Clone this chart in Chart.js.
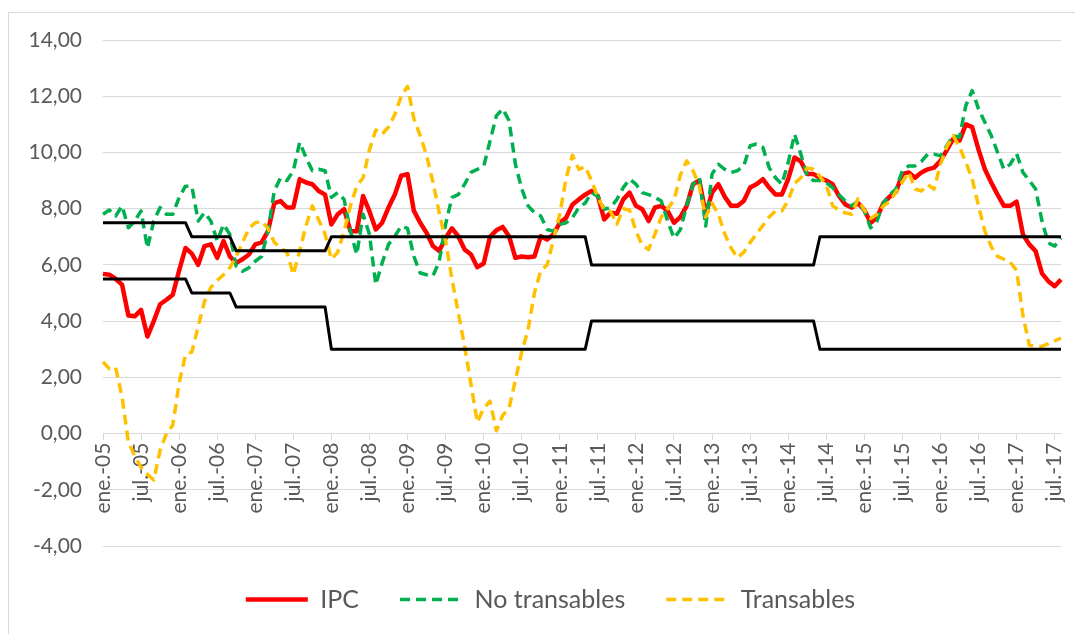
<!DOCTYPE html>
<html lang="es">
<head>
<meta charset="utf-8">
<title>IPC, transables y no transables</title>
<script src="https://cdn.jsdelivr.net/npm/chart.js@4.4.1/dist/chart.umd.min.js"></script>
<style>
    html, body { margin: 0; padding: 0; background: #fff; overflow: hidden; }
    #frame { position: absolute; left: 8px; top: 12px; width: 1200px; height: 800px; border: 1px solid #d9d9d9; }
    #wrap  { position: absolute; left: 0; top: 0; width: 1075px; height: 634px; }
</style>
</head>
<body>
<div id="frame"></div>
<div id="wrap"><canvas id="chartIpc"></canvas></div>
<script>
// variación interanual, mensual de ene.-05 a ago.-17
const MESES = ['ene.','feb.','mar.','abr.','may.','jun.','jul.','ago.','sep.','oct.','nov.','dic.']
const ANIOS = ['05','06','07','08','09','10','11','12','13','14','15','16','17']
const N_MESES = 152

const labels = []
ANIOS.forEach(a => MESES.forEach(m => labels.push(`${m}-${a}`)))
labels.length = N_MESES

const ipc = [
    5.68, 5.65, 5.5, 5.3, 4.2, 4.17, 4.4, 3.45, 4.0, 4.6, 4.76, 4.94,
    5.8, 6.6, 6.4, 6.0, 6.67, 6.73, 6.25, 6.85, 6.3, 6.07, 6.2, 6.37,
    6.73, 6.8, 7.2, 8.2, 8.27, 8.04, 8.04, 9.05, 8.93, 8.87, 8.63, 8.5,
    7.44, 7.8, 7.98, 7.2, 7.2, 8.45, 7.9, 7.26, 7.5, 8.04, 8.5, 9.17,
    9.23, 7.92, 7.5, 7.14, 6.67, 6.5, 6.96, 7.3, 7.02, 6.55, 6.37, 5.92,
    6.05, 7.0, 7.23, 7.35, 7.02, 6.25, 6.3, 6.27, 6.3, 7.02, 6.9, 7.08,
    7.5, 7.68, 8.15, 8.33, 8.5, 8.63, 8.45, 7.62, 7.86, 7.82, 8.33, 8.57,
    8.1, 7.98, 7.56, 8.04, 8.1, 7.92, 7.5, 7.7, 8.1, 8.87, 9.0, 7.8,
    8.57, 8.87, 8.42, 8.1, 8.1, 8.27, 8.75, 8.87, 9.05, 8.75, 8.5, 8.5,
    9.05, 9.82, 9.68, 9.23, 9.23, 9.1, 9.0, 8.87, 8.45, 8.15, 8.04, 8.2,
    7.95, 7.5, 7.68, 8.2, 8.43, 8.6, 9.23, 9.29, 9.1, 9.29, 9.4, 9.46,
    9.7, 10.08, 10.48, 10.42, 11.0, 10.9, 10.1, 9.4, 8.93, 8.5, 8.1, 8.1,
    8.25, 7.08, 6.73, 6.49, 5.7, 5.42, 5.24, 5.48
]

const noTransables = [
    7.8, 7.95, 7.74, 8.1, 7.32, 7.56, 7.92, 6.6, 7.56, 8.04, 7.8, 7.8,
    8.4, 8.8, 8.8, 7.56, 7.86, 7.56, 6.85, 7.44, 7.08, 5.95, 5.77, 5.9,
    6.13, 6.3, 7.2, 8.63, 9.1, 9.0, 9.35, 10.36, 9.82, 9.35, 9.4, 9.35,
    8.4, 8.57, 8.33, 7.2, 6.37, 7.8, 7.08, 5.3, 6.07, 6.73, 7.02, 7.38,
    7.3, 6.3, 5.71, 5.65, 5.6, 6.13, 7.44, 8.4, 8.5, 8.87, 9.29, 9.4,
    9.5, 10.4, 11.3, 11.55, 11.13, 9.58, 8.7, 8.1, 7.86, 7.74, 7.26, 7.2,
    7.44, 7.5, 7.68, 8.04, 8.2, 8.57, 8.45, 7.98, 8.04, 8.33, 8.75, 9.05,
    8.87, 8.57, 8.5, 8.4, 8.27, 7.56, 6.95, 7.25, 8.1, 8.87, 9.1, 7.38,
    9.23, 9.58, 9.4, 9.29, 9.35, 9.52, 10.24, 10.3, 10.18, 9.46, 9.1, 8.87,
    9.64, 10.65, 9.94, 9.17, 9.0, 9.0, 8.93, 8.75, 8.5, 8.27, 8.1, 8.27,
    7.92, 7.32, 7.56, 8.2, 8.5, 8.7, 9.35, 9.52, 9.52, 9.68, 9.94, 9.94,
    9.88, 10.24, 10.6, 10.54, 11.67, 12.2, 11.55, 11.07, 10.6, 10.0, 9.4, 9.58,
    9.96, 9.29, 9.0, 8.7, 7.56, 6.78, 6.67, 6.96
]

const transables = [
    2.55, 2.3, 2.35, 1.3, -0.3, -0.8, -1.2, -1.45, -1.65, -0.6, 0.0, 0.3,
    1.8, 2.8, 2.9, 3.8, 4.7, 5.2, 5.45, 5.65, 5.9, 6.3, 6.8, 7.3,
    7.5, 7.55, 7.3, 6.8, 6.6, 6.45, 5.65, 6.5, 7.4, 8.1, 7.6, 7.1,
    6.2, 6.45, 7.2, 8.1, 8.8, 9.1, 10.1, 10.8, 10.65, 10.9, 11.35, 12.0,
    12.35, 11.2, 10.6, 9.9, 8.95, 7.85, 6.85, 5.5, 4.3, 3.1, 1.75, 0.4,
    0.9, 1.15, 0.1, 0.65, 0.9, 1.9, 2.9, 3.7, 5.0, 5.8, 6.0, 6.9,
    7.8, 9.1, 9.9, 9.4, 9.5, 9.0, 8.4, 7.95, 7.9, 7.45, 8.0, 7.95,
    7.2, 6.7, 6.55, 7.1, 7.7, 8.0, 8.3, 9.2, 9.7, 9.35, 8.8, 7.7,
    8.2, 7.8, 7.1, 6.6, 6.25, 6.45, 6.8, 7.1, 7.4, 7.7, 7.92, 7.92,
    8.3, 8.9, 9.1, 9.45, 9.4, 9.15, 8.85, 8.1, 7.95, 7.85, 7.8, 8.35,
    7.95, 7.65, 7.8, 8.1, 8.25, 8.6, 8.95, 9.3, 8.7, 8.63, 8.85, 8.7,
    9.58, 10.2, 10.6, 10.2, 9.65, 9.05, 8.1, 7.2, 6.65, 6.3, 6.2, 6.1,
    5.8, 4.2, 3.15, 3.1, 3.1, 3.2, 3.3, 3.4
]

// rango meta: meses donde cambia el escalón (índice en labels) y su valor
const metaIdx      = [0, 13, 14, 20, 21, 35, 36, 76, 77, 112, 113, 151]
const metaSuperior = [7.5, 7.5, 7.0, 7.0, 6.5, 6.5, 7.0, 7.0, 6.0, 6.0, 7.0, 7.0]
const metaInferior = [5.5, 5.5, 5.0, 5.0, 4.5, 4.5, 3.0, 3.0, 4.0, 4.0, 3.0, 3.0]

const Y_TICKS = [-4, -2, 0, 2, 4, 6, 8, 10, 12, 14]

const GRIS   = '#595959'
const GRID   = '#d9d9d9'
const FUENTE = { family: 'Lato, "Open Sans", sans-serif', size: 21 }
const FUENTE_LEYENDA = { family: FUENTE.family, size: 25 }

Chart.defaults.font.family = FUENTE.family
Chart.defaults.font.size   = FUENTE.size
Chart.defaults.color       = GRIS

function escalon(valores) {
    return metaIdx.map((i, k) => ({ x: labels[i], y: valores[k] }))
}

function formatoNumero(v) {
    return v.toFixed(2).replace('.', ',')
}

// con usePointStyle la leyenda toma el estilo del punto, le devolvemos el guion de la serie
function etiquetasLeyenda(chart) {
    return Chart.defaults.plugins.legend.labels.generateLabels(chart).map(item => {
        const ds = chart.data.datasets[item.datasetIndex]
        return { ...item, lineDash: ds.borderDash || [], lineWidth: ds.borderWidth }
    })
}

new Chart(document.getElementById('chartIpc'), {
    type: 'line',
    data: {
        labels: labels,
        datasets: [
            { label: 'IPC', data: ipc, borderColor: '#ff0000', backgroundColor: '#ff0000', borderWidth: 4.5, order: 5 },
            { label: 'No transables', data: noTransables, borderColor: '#00b050', backgroundColor: '#00b050', borderWidth: 3.5, borderDash: [10, 6], order: 4 },
            { label: 'Transables', data: transables, borderColor: '#ffc000', backgroundColor: '#ffc000', borderWidth: 3.5, borderDash: [10, 6], order: 3 },
            { label: 'Meta superior', data: escalon(metaSuperior), borderColor: '#000000', borderWidth: 3, order: 2 },
            { label: 'Meta inferior', data: escalon(metaInferior), borderColor: '#000000', borderWidth: 3, order: 1 },
        ]
    },
    options: {
        responsive: true,
        maintainAspectRatio: false,
        animation: false,
        layout: { padding: { top: 40, right: 0, bottom: 12, left: 26 } },
        elements: {
            point: { radius: 0, hoverRadius: 0 },
            line: { tension: 0, borderJoinStyle: 'round', fill: false }
        },
        plugins: {
            tooltip: { enabled: false },
            legend: {
                position: 'bottom',
                labels: {
                    usePointStyle: true,
                    pointStyle: 'line',
                    pointStyleWidth: 62,
                    padding: 41,
                    color: GRIS,
                    font: FUENTE_LEYENDA,
                    generateLabels: etiquetasLeyenda,
                    filter: item => item.datasetIndex < 3,
                    sort: (a, b) => a.datasetIndex - b.datasetIndex
                }
            }
        },
        scales: {
            x: {
                position: { y: 0 },
                // el eje cruza en 0, las etiquetas quedan dentro del área del gráfico
                afterFit: scale => {
                    scale.height = 0
                    scale.paddingLeft = 0
                    scale.paddingRight = 14
                },
                grid: {
                    drawOnChartArea: false,
                    drawTicks: true,
                    tickLength: 6,
                    color: ctx => ctx.index % 6 === 0 ? GRID : 'rgba(0,0,0,0)'
                },
                border: { display: true, color: GRID, width: 1 },
                ticks: {
                    autoSkip: false,
                    minRotation: 90,
                    maxRotation: 90,
                    padding: 3,
                    color: GRIS,
                    font: FUENTE,
                    callback: (val, idx) => idx % 6 === 0 ? labels[idx] : ''
                }
            },
            y: {
                min: Y_TICKS[0],
                max: Y_TICKS[Y_TICKS.length - 1],
                afterBuildTicks: scale => { scale.ticks = Y_TICKS.map(v => ({ value: v })) },
                afterFit: scale => { scale.width = 77 },
                grid: { color: GRID, drawTicks: false },
                border: { display: false },
                ticks: {
                    padding: 21,
                    color: GRIS,
                    font: FUENTE,
                    callback: v => formatoNumero(v)
                }
            }
        }
    }
})
</script>
</body>
</html>
